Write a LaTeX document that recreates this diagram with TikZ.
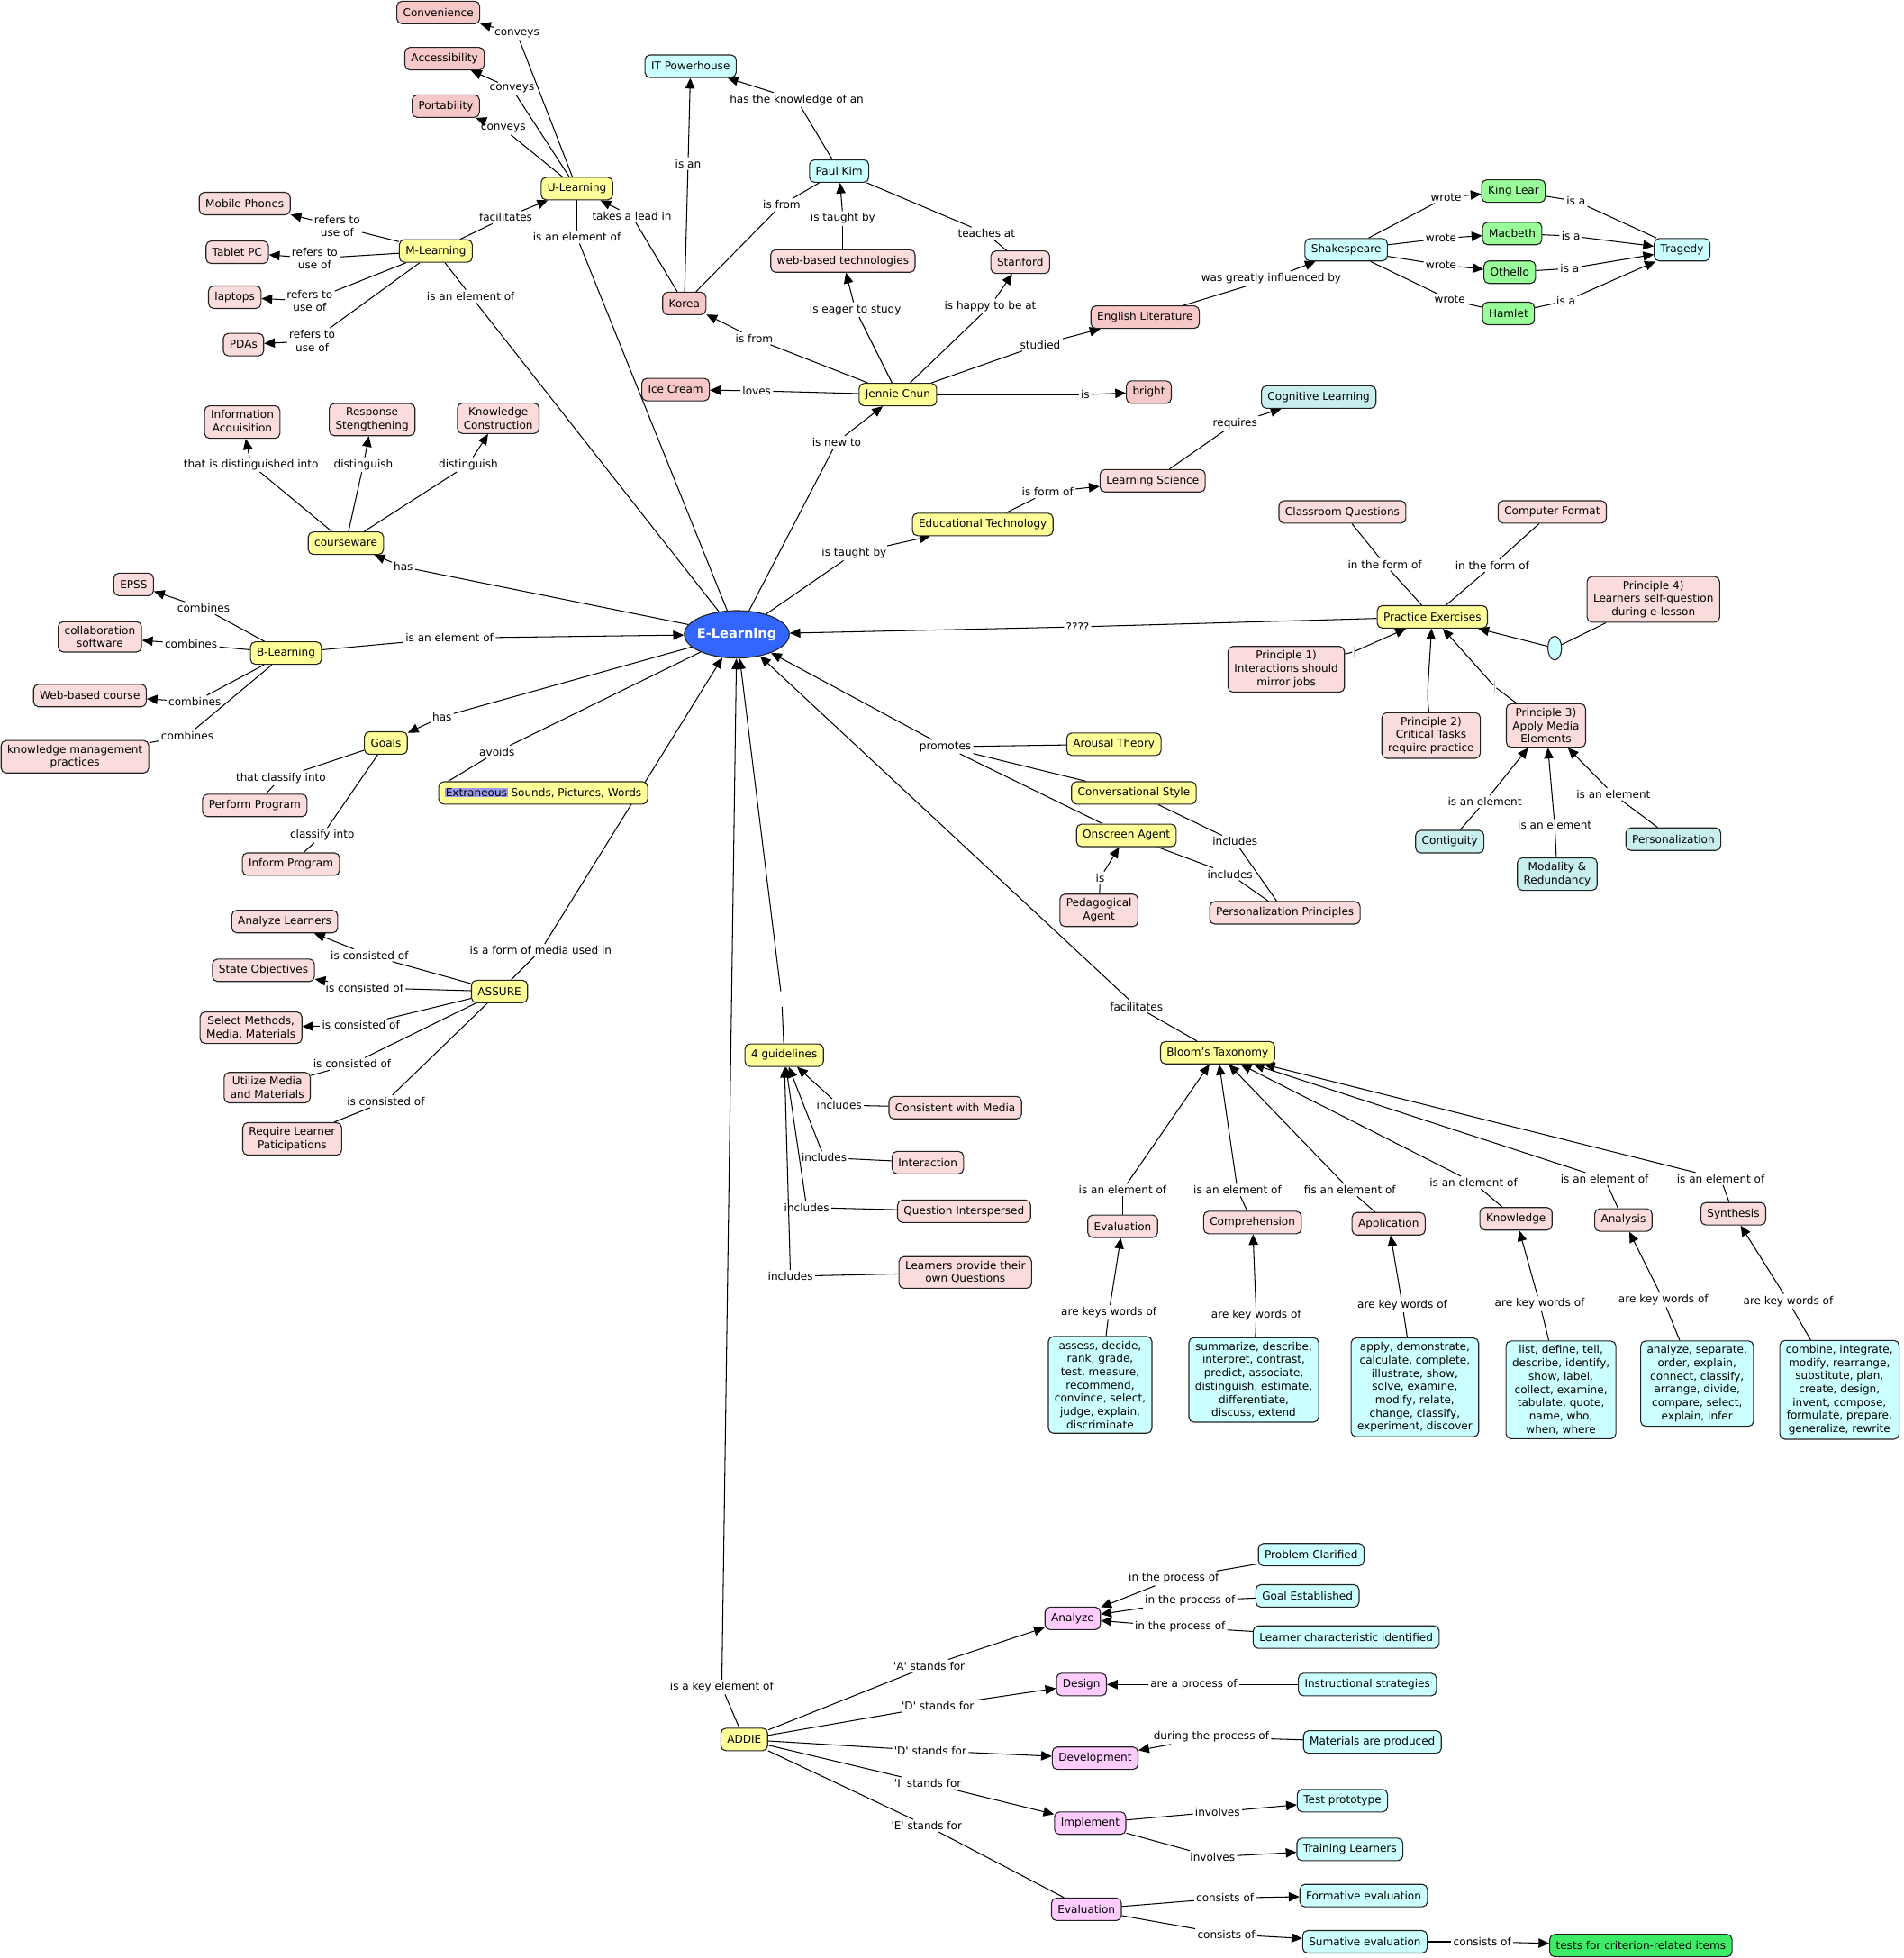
\documentclass[tikz,border=0pt]{standalone}
\usepackage{fontspec}
\setmainfont{DejaVu Sans}
\usetikzlibrary{arrows.meta,shapes.geometric}
\definecolor{cyellow}{HTML}{FFFF99}
\definecolor{cpinkL}{HTML}{FADCDC}
\definecolor{cpinkD}{HTML}{F7C8C8}
\definecolor{ccyan}{HTML}{CCFFFF}
\definecolor{cteal}{HTML}{C8EEEE}
\definecolor{cgreen}{HTML}{99FF99}
\definecolor{cbright}{HTML}{3DEB66}
\definecolor{cviolet}{HTML}{FFCCFF}
\definecolor{cblue}{HTML}{3366FF}
\definecolor{chl}{HTML}{9999EE}
\definecolor{cborder}{HTML}{222222}
\newcommand{\mapfont}{\fontsize{8.7}{10.6}\selectfont}
\setlength{\fboxsep}{0.5pt}
\pgfdeclarelayer{bg}
\pgfsetlayers{bg,main}
\newcommand{\linkA}[3]{\draw[lk] (#1) -- (#2); \draw[lka] (#2) -- (#3);}
\newcommand{\linkN}[3]{\draw[lk] (#1) -- (#2); \draw[lk] (#2) -- (#3);}
\tikzset{
 cpt/.style={draw=cborder, line width=0.8pt, rounded corners=4pt, font=\mapfont, align=center, inner xsep=5pt, inner ysep=3.5pt, minimum height=18pt},
 cy/.style={cpt, fill=cyellow},
 cpl/.style={cpt, fill=cpinkL},
 cpd/.style={cpt, fill=cpinkD},
 ccy/.style={cpt, fill=ccyan},
 ctl/.style={cpt, fill=cteal},
 cgr/.style={cpt, fill=cgreen},
 cvi/.style={cpt, fill=cviolet},
 lbl/.style={font=\mapfont, inner sep=1.5pt, align=center},
 gap/.style={inner sep=0pt, minimum width=2pt, minimum height=12pt},
 lk/.style={line width=0.75pt, draw=black},
 lka/.style={lk, -{Triangle[length=8.5pt,width=7.5pt]}},
}
\begin{document}
\begin{tikzpicture}[x=1pt,y=-1pt]
\useasboundingbox (0,0) rectangle (1524,1568);
\begin{pgfonlayer}{bg}
\fill[white] (0,0) rectangle (1524,1568);
\end{pgfonlayer}

% ---------- concepts ----------
\node[cpd] (conv) at (351,10) {Convenience};
\node[cpd] (acc) at (356,47) {Accessibility};
\node[cpd] (port) at (357,85) {Portability};
\node[cy] (ul) at (462,151) {U-Learning};
\node[cpl] (mob) at (196,163) {Mobile Phones};
\node[cpl] (tab) at (190,202) {Tablet PC};
\node[cpl] (lap) at (188,238) {laptops};
\node[cpl] (pda) at (195,276) {PDAs};
\node[cy] (ml) at (349,201) {M-Learning};
\node[ccy] (itp) at (553,53) {IT Powerhouse};
\node[ccy] (pk) at (672,137) {Paul Kim};
\node[cpl] (wbt) at (675,209) {web-based technologies};
\node[cpl] (stan) at (817,210) {Stanford};
\node[cpd] (kor) at (548,243) {Korea};
\node[cpd] (ice) at (541,312) {Ice Cream};
\node[cy] (jc) at (719,316) {Jennie Chun};
\node[cpd] (bright) at (920,314) {bright};
\node[cpd] (el) at (917,254) {English Literature};
\node[ccy] (shk) at (1078,200) {Shakespeare};
\node[cgr] (kl) at (1212,153) {King Lear};
\node[cgr] (mac) at (1211,187) {Macbeth};
\node[cgr] (oth) at (1209,218) {Othello};
\node[cgr] (ham) at (1208,251) {Hamlet};
\node[ccy] (trag) at (1347,200) {Tragedy};
\node[ctl] (cog) at (1056,318) {Cognitive Learning};
\node[cpl] (ls) at (923,385) {Learning Science};
\node[cy] (et) at (787,420) {Educational Technology};
\node[ellipse, draw=cborder, line width=0.8pt, fill=cblue, minimum width=84pt, minimum height=38pt, inner sep=0pt] (E) at (590,508) {};
\node[text=white, font=\fontsize{10.5}{12}\selectfont\bfseries, inner sep=0pt] (Etext) at (E.center) {E-Learning};

\node[cpl] (ia) at (194,338) {Information\\Acquisition};
\node[cpl] (rs) at (298,336) {Response\\Stengthening};
\node[cpl] (kc) at (399,335) {Knowledge\\Construction};
\node[cy] (cw) at (277,435) {courseware};
\node[cpl] (epss) at (107,468) {EPSS};
\node[cpl] (collab) at (80,510) {collaboration\\software};
\node[cpl] (wbc) at (72,557) {Web-based course};
\node[cpl] (kmp) at (60,606) {knowledge management\\practices};
\node[cy] (bl) at (229,523) {B-Learning};
\node[cy] (goals) at (309,595) {Goals};
\node[cpl] (perf) at (204,645) {Perform Program};
\node[cpl] (inf) at (233,692) {Inform Program};
\node[cy] (ext) at (435,635) {\colorbox{chl}{Extraneous} Sounds, Pictures, Words};

\node[cy] (arou) at (892,596) {Arousal Theory};
\node[cy] (convs) at (908,635) {Conversational Style};
\node[cy] (osa) at (902,669) {Onscreen Agent};
\node[cpl] (ped) at (880,729) {Pedagogical\\Agent};
\node[cpl] (pp) at (1029,731) {Personalization Principles};

\node[cpl] (cq) at (1075,410) {Classroom Questions};
\node[cpl] (cf) at (1243,410) {Computer Format};
\node[cy] (pe) at (1147,494) {Practice Exercises};
\node[cpl] (p4) at (1324,480) {Principle 4)\\Learners self-question\\during e-lesson};
\node[ellipse, draw=cborder, line width=0.8pt, fill=ccyan, minimum width=11pt, minimum height=19pt, inner sep=0pt] (ell) at (1245,519) {};
\node[cpl] (p1) at (1030,536) {Principle 1)\\Interactions should\\mirror jobs};
\node[cpl] (p2) at (1146,589) {Principle 2)\\Critical Tasks\\require practice};
\node[cpl] (p3) at (1238,581) {Principle 3)\\Apply Media\\Elements};
\node[ctl] (contig) at (1161,674) {Contiguity};
\node[ctl] (mod) at (1247,700) {Modality \&\\Redundancy};
\node[ctl] (pers) at (1340,672) {Personalization};

\node[cy] (bt) at (975,843) {Bloom's Taxonomy};
\node[cpl] (bev) at (899,982) {Evaluation};
\node[cpl] (bco) at (1003,979) {Comprehension};
\node[cpl] (bap) at (1112,980) {Application};
\node[cpl] (bkn) at (1214,976) {Knowledge};
\node[cpl] (ban) at (1300,977) {Analysis};
\node[cpl] (bsy) at (1388,972) {Synthesis};
\node[ccy] (k1) at (881,1109) {assess, decide,\\rank, grade,\\test, measure,\\recommend,\\convince, select,\\judge, explain,\\discriminate};
\node[ccy] (k2) at (1004,1105) {summarize, describe,\\interpret, contrast,\\predict, associate,\\distinguish, estimate,\\differentiate,\\discuss, extend};
\node[ccy] (k3) at (1133,1111) {apply, demonstrate,\\calculate, complete,\\illustrate, show,\\solve, examine,\\modify, relate,\\change, classify,\\experiment, discover};
\node[ccy] (k4) at (1250,1113) {list, define, tell,\\describe, identify,\\show, label,\\collect, examine,\\tabulate, quote,\\name, who,\\when, where};
\node[ccy] (k5) at (1359,1108) {analyze, separate,\\order, explain,\\connect, classify,\\arrange, divide,\\compare, select,\\explain, infer};
\node[ccy] (k6) at (1473,1113) {combine, integrate,\\modify, rearrange,\\substitute, plan,\\create, design,\\invent, compose,\\formulate, prepare,\\generalize, rewrite};

\node[cpl] (aul) at (228,738) {Analyze Learners};
\node[cpl] (so) at (211,777) {State Objectives};
\node[cpl] (sm) at (201,823) {Select Methods,\\Media, Materials};
\node[cpl] (um) at (214,871) {Utilize Media\\and Materials};
\node[cpl] (rl) at (234,912) {Require Learner\\Paticipations};
\node[cy] (assure) at (400,794) {ASSURE};

\node[cy] (g4) at (628,845) {4 guidelines};
\node[cpl] (cwm) at (765,887) {Consistent with Media};
\node[cpl] (inter) at (743,931) {Interaction};
\node[cpl] (qi) at (772,970) {Question Interspersed};
\node[cpl] (lpq) at (773,1019) {Learners provide their\\own Questions};

\node[cy] (addie) at (596,1393) {ADDIE};
\node[cvi] (an) at (859,1296) {Analyze};
\node[cvi] (de) at (866,1349) {Design};
\node[cvi] (dv) at (877,1408) {Development};
\node[cvi] (im) at (873,1460) {Implement};
\node[cvi] (ev) at (870,1529) {Evaluation};
\node[ccy] (pc) at (1050,1245) {Problem Clarified};
\node[ccy] (ge) at (1047,1278) {Goal Established};
\node[ccy] (lci) at (1078,1311) {Learner characteristic identified};
\node[ccy] (ins) at (1095,1349) {Instructional strategies};
\node[ccy] (map) at (1099,1395) {Materials are produced};
\node[ccy] (tp) at (1075,1442) {Test prototype};
\node[ccy] (tl) at (1081,1481) {Training Learners};
\node[ccy] (fe) at (1092,1518) {Formative evaluation};
\node[ccy] (se) at (1093,1555) {Sumative evaluation};
\node[cpt, fill=cbright] (tc) at (1314,1558) {tests for criterion-related items};

% ---------- linking phrases ----------
\node[lbl] (l1) at (414,27) {conveys};
\node[lbl] (l2) at (410,71) {conveys};
\node[lbl] (l3) at (403,103) {conveys};
\node[lbl] (l4) at (405,174) {facilitates};
\node[lbl] (l5) at (270,181) {refers to\\use of};
\node[lbl] (l6) at (252,207) {refers to\\use of};
\node[lbl] (l7) at (248,241) {refers to\\use of};
\node[lbl] (l8) at (250,273) {refers to\\use of};
\node[lbl] (l9) at (377,237) {is an element of};
\node[lbl] (l10) at (462,190) {is an element of};
\node[lbl] (l11) at (506,173) {takes a lead in};
\node[lbl] (l12) at (551,131) {is an};
\node[lbl] (l13) at (638,80) {has the knowledge of an};
\node[lbl] (l14) at (626,164) {is from};
\node[lbl] (l15) at (675,175) {is taught by};
\node[lbl] (l16) at (790,187) {teaches at};
\node[lbl] (l17) at (685,248) {is eager to study};
\node[lbl] (l18) at (793,245) {is happy to be at};
\node[lbl] (l19) at (604,271) {is from};
\node[lbl] (l20) at (606,313) {loves};
\node[lbl] (l21) at (869,316) {is};
\node[lbl] (l22) at (833,276) {studied};
\node[lbl] (l23) at (1018,223) {was greatly influenced by};
\node[lbl] (l24) at (670,354) {is new to};
\node[lbl] (l25) at (1158,158) {wrote};
\node[lbl] (l26) at (1154,191) {wrote};
\node[lbl] (l27) at (1154,212) {wrote};
\node[lbl] (l28) at (1161,240) {wrote};
\node[lbl] (l29) at (1262,161) {is a};
\node[lbl] (l30) at (1258,189) {is a};
\node[lbl] (l31) at (1257,215) {is a};
\node[lbl] (l32) at (1254,241) {is a};
\node[lbl] (l33) at (989,339) {requires};
\node[lbl] (l34) at (839,394) {is form of};
\node[lbl] (l35) at (684,443) {is taught by};
\node[lbl] (l36) at (201,372) {that is distinguished into};
\node[lbl] (l37) at (291,372) {distinguish};
\node[lbl] (l38) at (375,372) {distinguish};
\node[lbl] (l39) at (323,454) {has};
\node[lbl] (l40) at (163,487) {combines};
\node[lbl] (l41) at (153,516) {combines};
\node[lbl] (l42) at (156,562) {combines};
\node[lbl] (l43) at (150,589) {combines};
\node[lbl] (l44) at (360,511) {is an element of};
\node[lbl] (l45) at (354,574) {has};
\node[lbl] (l46) at (225,623) {that classify into};
\node[lbl] (l47) at (258,669) {classify into};
\node[lbl] (l48) at (398,602) {avoids};
\node[lbl] (l49) at (433,761) {is a form of media used in};
\node[lbl] (l50) at (296,765) {is consisted of};
\node[lbl] (l51) at (292,791) {is consisted of};
\node[lbl] (l52) at (289,821) {is consisted of};
\node[lbl] (l53) at (282,852) {is consisted of};
\node[lbl] (l54) at (309,882) {is consisted of};
\node[lbl] (l55) at (757,598) {promotes};
\node[lbl] (l56) at (989,674) {includes};
\node[lbl] (l57) at (985,700) {includes};
\node[lbl] (l58) at (881,703) {is};
\node[lbl] (l59) at (863,502) {????};
\node[lbl] (l60) at (1109,452) {in the form of};
\node[lbl] (l61) at (1195,453) {in the form of};
\node[gap] (g1) at (1084,522) {};
\node[gap] (g2) at (1143,557) {};
\node[gap] (g3) at (1197,550) {};
\node[gap] (g4gap) at (626,800) {};
\node[lbl] (l62) at (1189,642) {is an element};
\node[lbl] (l63) at (1245,661) {is an element};
\node[lbl] (l64) at (1292,636) {is an element};
\node[lbl] (l65) at (910,806) {facilitates};
\node[lbl] (b1) at (899,953) {is an element of};
\node[lbl] (b2) at (991,953) {is an element of};
\node[lbl] (b3) at (1081,953) {fis an element of};
\node[lbl] (b4) at (1180,947) {is an element of};
\node[lbl] (b5) at (1285,944) {is an element of};
\node[lbl] (b6) at (1378,944) {is an element of};
\node[lbl] (w1) at (888,1051) {are keys words of};
\node[lbl] (w2) at (1006,1053) {are key words of};
\node[lbl] (w3) at (1123,1045) {are key words of};
\node[lbl] (w4) at (1233,1044) {are key words of};
\node[lbl] (w5) at (1332,1041) {are key words of};
\node[lbl] (w6) at (1432,1042) {are key words of};
\node[lbl] (i1) at (672,885) {includes};
\node[lbl] (i2) at (660,927) {includes};
\node[lbl] (i3) at (646,967) {includes};
\node[lbl] (i4) at (633,1022) {includes};
\node[lbl] (a0) at (578,1351) {is a key element of};
\node[lbl] (a1) at (744,1334) {\textquotesingle A\textquotesingle\ stands for};
\node[lbl] (a2) at (751,1366) {\textquotesingle D\textquotesingle\ stands for};
\node[lbl] (a3) at (745,1402) {\textquotesingle D\textquotesingle\ stands for};
\node[lbl] (a4) at (743,1428) {\textquotesingle I\textquotesingle\ stands for};
\node[lbl] (a5) at (742,1462) {\textquotesingle E\textquotesingle\ stands for};
\node[lbl] (a6) at (940,1264) {in the process of};
\node[lbl] (a7) at (953,1282) {in the process of};
\node[lbl] (a8) at (945,1303) {in the process of};
\node[lbl] (a9) at (956,1349) {are a process of};
\node[lbl] (a10) at (970,1391) {during the process of};
\node[lbl] (a11) at (975,1451) {involves};
\node[lbl] (a12) at (971,1487) {involves};
\node[lbl] (a13) at (981,1520) {consists of};
\node[lbl] (a14) at (982,1549) {consists of};
\node[lbl] (a15) at (1187,1555) {consists of};

% ---------- connectors ----------
\begin{pgfonlayer}{bg}
\linkA{ul}{l1}{conv}
\linkA{ul}{l2}{acc}
\linkA{ul}{l3}{port}
\linkA{ml}{l4}{ul}
\linkA{ml}{l5}{mob}
\linkA{ml}{l6}{tab}
\linkA{ml}{l7}{lap}
\linkA{ml}{l8}{pda}
\linkN{ml}{l9}{E}
\linkN{ul}{l10}{E}
\linkA{kor}{l11}{ul}
\linkA{kor}{l12}{itp}
\linkA{pk}{l13}{itp}
\linkN{pk}{l14}{kor}
\linkA{wbt}{l15}{pk}
\linkN{pk}{l16}{stan}
\linkA{jc}{l17}{wbt}
\linkA{jc}{l18}{stan}
\linkA{jc}{l19}{kor}
\linkA{jc}{l20}{ice}
\linkA{jc}{l21}{bright}
\linkA{jc}{l22}{el}
\linkA{el}{l23}{shk}
\linkA{E}{l24}{jc}
\linkA{shk}{l25}{kl}
\linkA{shk}{l26}{mac}
\linkA{shk}{l27}{oth}
\linkN{shk}{l28}{ham}
\linkN{kl}{l29}{trag}
\linkA{mac}{l30}{trag}
\linkA{oth}{l31}{trag}
\linkA{ham}{l32}{trag}
\linkA{ls}{l33}{cog}
\linkA{et}{l34}{ls}
\linkA{E}{l35}{et}
\linkA{cw}{l36}{ia}
\linkA{cw}{l37}{rs}
\linkA{cw}{l38}{kc}
\linkA{E}{l39}{cw}
\linkA{bl}{l40}{epss}
\linkA{bl}{l41}{collab}
\linkA{bl}{l42}{wbc}
\linkN{bl}{l43}{kmp}
\linkA{bl}{l44}{E}
\linkA{E}{l45}{goals}
\linkN{goals}{l46}{perf}
\linkN{goals}{l47}{inf}
\draw[lk] (E) -- (l48); \draw[lk] (l48) -- ([xshift=8pt]ext.north west);
\linkA{assure}{l49}{E}
\linkA{assure}{l50}{aul}
\linkA{assure}{l51}{so}
\linkA{assure}{l52}{sm}
\linkN{assure}{l53}{um}
\linkN{assure}{l54}{rl}
\draw[lk] (arou) -- (l55); \draw[lk] (convs) -- (l55); \draw[lk] (osa) -- (l55); \draw[lka] (l55) -- (E);
\linkN{convs}{l56}{pp}
\linkN{osa}{l57}{pp}
\linkA{ped}{l58}{osa}
\linkA{pe}{l59}{E}
\linkN{pe}{l60}{cq}
\linkN{pe}{l61}{cf}
\linkA{p4}{ell}{pe}
\linkA{p1}{g1}{pe}
\linkA{p2}{g2}{pe}
\linkA{p3}{g3}{pe}
\linkA{contig}{l62}{p3}
\linkA{mod}{l63}{p3}
\linkA{pers}{l64}{p3}
\linkA{bt}{l65}{E}
\linkA{bev}{b1}{bt}
\linkA{bco}{b2}{bt}
\linkA{bap}{b3}{bt}
\linkA{bkn}{b4}{bt}
\linkA{ban}{b5}{bt}
\linkA{bsy}{b6}{bt}
\linkA{k1}{w1}{bev}
\linkA{k2}{w2}{bco}
\linkA{k3}{w3}{bap}
\linkA{k4}{w4}{bkn}
\linkA{k5}{w5}{ban}
\linkA{k6}{w6}{bsy}
\linkA{cwm}{i1}{g4}
\linkA{inter}{i2}{g4}
\linkA{qi}{i3}{g4}
\linkA{lpq}{i4}{g4}
\linkA{g4}{g4gap}{E}
\linkA{addie}{a0}{E}
\linkA{addie}{a1}{an}
\linkA{addie}{a2}{de}
\linkA{addie}{a3}{dv}
\linkA{addie}{a4}{im}
\linkN{addie}{a5}{ev}
\linkA{pc}{a6}{an}
\linkA{ge}{a7}{an}
\linkA{lci}{a8}{an}
\linkA{ins}{a9}{de}
\linkA{map}{a10}{dv}
\linkA{im}{a11}{tp}
\linkA{im}{a12}{tl}
\linkA{ev}{a13}{fe}
\linkA{ev}{a14}{se}
\linkA{se}{a15}{tc}
\end{pgfonlayer}
\draw[black!25, line width=0.5pt] (1143,552) -- (1143,562);
\draw[black!25, line width=0.5pt] (1197,545) -- (1197,555);
\draw[black!25, line width=0.5pt] (1084,518) -- (1084,526);
\end{tikzpicture}
\end{document}
